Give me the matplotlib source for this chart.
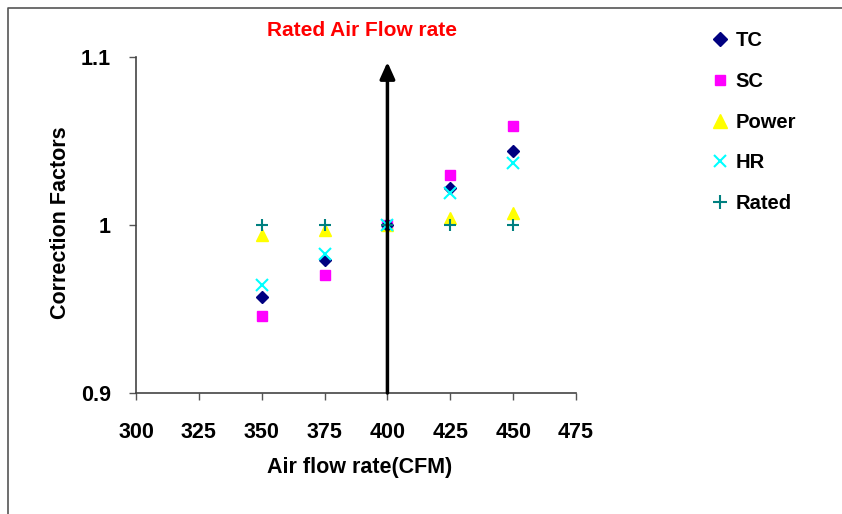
import matplotlib
matplotlib.use("Agg")
import matplotlib.pyplot as plt
from matplotlib.lines import Line2D

airflow = [350, 375, 400, 425, 450]
tc = [0.957, 0.979, 1.000, 1.022, 1.044]
sc = [0.946, 0.970, 1.000, 1.030, 1.059]
power = [0.994, 0.997, 1.000, 1.004, 1.007]
hr = [0.964, 0.983, 1.000, 1.019, 1.037]
rated = [1.000, 1.000, 1.000, 1.000, 1.000]
rated_flow = 400
arrow_top = 1.097
xticks = [300, 325, 350, 375, 400, 425, 450, 475]
yticks = [0.9, 1.0, 1.1]
ytick_labels = ["0.9", "1", "1.1"]

font = ["Liberation Sans", "DejaVu Sans"]

fig = plt.figure(figsize=(8.42, 5.14), dpi=100)
ax = fig.add_axes([136/842, 1-393/514, 440/842, 336/514])

ax.plot(airflow, tc, linestyle="none", marker="D", color="#000080", markersize=6.5, label="TC", zorder=4)
ax.plot(airflow, sc, linestyle="none", marker="s", color="#FF00FF", markersize=7, label="SC", zorder=3)
ax.plot(airflow, power, linestyle="none", marker="^", color="#FFFF00", markersize=9, label="Power", zorder=3)
ax.plot(airflow, hr, linestyle="none", marker="x", color="#00FFFF", markersize=8, markeredgewidth=1.5, label="HR", zorder=5)
ax.plot(airflow, rated, linestyle="none", marker="+", color="#008080", markersize=9, markeredgewidth=1.5, label="Rated", zorder=5)

ax.annotate("", xy=(rated_flow, arrow_top), xytext=(rated_flow, 0.9),
            arrowprops=dict(arrowstyle="-|>,head_width=0.45,head_length=1.0", color="black", lw=2.5, shrinkA=0, shrinkB=0),
            zorder=6)

ax.set_xlim(300, 475)
ax.set_ylim(0.9, 1.1)
ax.set_xticks(xticks)
ax.set_xticklabels([str(v) for v in xticks], family=font, fontweight="bold", fontsize=15.5)
ax.set_yticks(yticks)
ax.set_yticklabels(ytick_labels, family=font, fontweight="bold", fontsize=15.5)
ax.tick_params(axis="x", direction="out", length=5, width=1, color="#555555", pad=16)
ax.tick_params(axis="y", direction="out", length=5, width=1, color="#555555", pad=13)
for s in ["top", "right"]:
    ax.spines[s].set_visible(False)
for s in ["left", "bottom"]:
    ax.spines[s].set_color("#444444")
    ax.spines[s].set_linewidth(1.2)

fig.text(360/842, 1-467/514, "Air flow rate(CFM)", family=font, fontweight="bold", fontsize=15.5,
         ha="center", va="center")
fig.text(60/842, 1-223/514, "Correction Factors", family=font, fontweight="bold", fontsize=15.5,
         ha="center", va="center", rotation=90)

fig.text(362/842, 1-30/514, "Rated Air Flow rate", color="#FF0000", family=font,
         fontweight="bold", fontsize=15, ha="center", va="center")

leg = fig.legend(loc="upper left", bbox_to_anchor=(704/842, 1-23/514), frameon=False,
                 prop=dict(family=font, weight="bold", size=14.5), labelspacing=1.08,
                 handlelength=0.8, handletextpad=0.37, borderaxespad=0, markerscale=1.1)

border = Line2D([8/842, 8/842, 1.0], [0.0, 1-8/514, 1-8/514], transform=fig.transFigure,
                color="#555555", lw=1.2)
fig.add_artist(border)

fig.savefig("out.png", dpi=100)
